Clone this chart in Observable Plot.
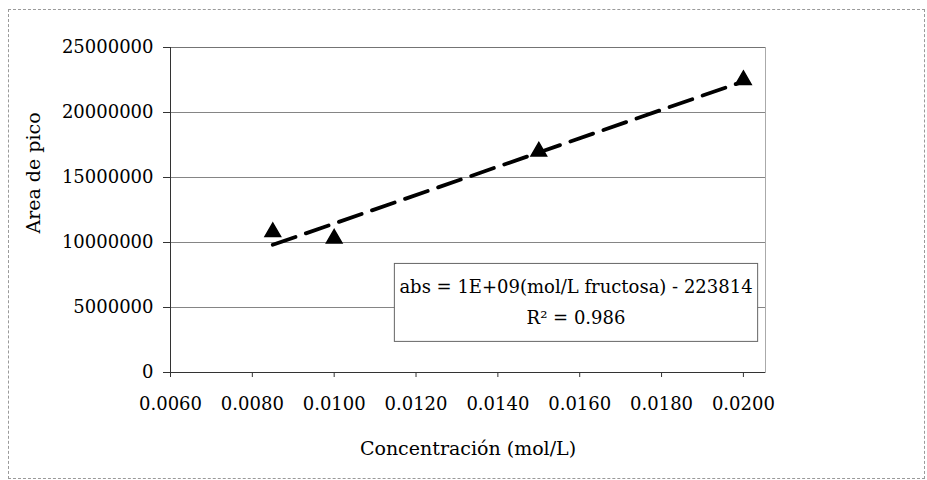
<!DOCTYPE html>
<html>
<head>
<meta charset="utf-8">
<script src="https://cdn.jsdelivr.net/npm/d3@7"></script>
<script src="https://cdn.jsdelivr.net/npm/@observablehq/plot@0.6"></script>
<style>
  body { margin: 0; background: #fff; }
  #wrap { position: relative; width: 927px; height: 480px; }
  #border { position: absolute; left: 8px; top: 9px; width: 915px; height: 468px; border: 1px dashed #9a9a9a; pointer-events: none; }
</style>
</head>
<body>
<div id="wrap"><div id="border"></div></div>
<script>
const concentration = [0.0085, 0.0100, 0.0150, 0.0200];
const peakArea = [10800000, 10300000, 17000000, 22500000];
const xTicks = [0.006, 0.008, 0.010, 0.012, 0.014, 0.016, 0.018, 0.020];
const yTicks = [0, 5000000, 10000000, 15000000, 20000000, 25000000];
const xLabel = "Concentración (mol/L)";
const yLabel = "Area de pico";
const eqLines = ["abs = 1E+09(mol/L fructosa) - 223814", "R² = 0.986"];

const data = concentration.map((c, i) => ({c, a: peakArea[i]}));
const font = "'DejaVu Serif', serif";

const chart = Plot.plot({
  width: 927,
  height: 480,
  marginLeft: 170,
  marginRight: 162,
  marginTop: 47,
  marginBottom: 108,
  style: {fontFamily: font, fontSize: "18px", color: "#000", background: "transparent"},
  x: {domain: [0.006, 0.02054], ticks: xTicks, tickFormat: d3.format(".4f"), label: null},
  y: {domain: [0, 25000000], ticks: yTicks, tickFormat: d => String(d), label: null},
  marks: [
    Plot.frame({stroke: "#aaa", strokeWidth: 1}),
    Plot.gridY(yTicks, {stroke: "#666", strokeOpacity: 0.8, strokeWidth: 1}),
    Plot.axisY({ticks: yTicks, tickFormat: d => String(d), tickSize: 7, tickPadding: 10, stroke: "#333", fontSize: 18, label: null}),
    Plot.axisX({ticks: xTicks, tickFormat: d3.format(".4f"), tickSize: 5, tickPadding: 20, stroke: "#333", fontSize: 18, label: null}),
    Plot.ruleX([0.006], {stroke: "#333", strokeWidth: 1}),
    Plot.ruleY([0], {stroke: "#333", strokeWidth: 1}),
    Plot.linearRegressionY(data, {x: "c", y: "a", ci: 0, stroke: "#000", strokeWidth: 3.8, strokeDasharray: "24,11"}),
    Plot.dot(data, {x: "c", y: "a", symbol: "triangle", r: 5.8, fill: "#000", stroke: "#000"}),
    Plot.text([xLabel], {frameAnchor: "bottom", dy: 76, textAnchor: "middle", lineAnchor: "middle", fontSize: 19, fill: "#000"}),
    Plot.text([yLabel], {frameAnchor: "left", dx: -137, dy: -37, rotate: -90, textAnchor: "middle", lineAnchor: "middle", fontSize: 19, fill: "#000"}),
    Plot.text([eqLines.join("\n")], {frameAnchor: "bottom", dx: 108, dy: -73.5, textAnchor: "middle", lineAnchor: "middle", lineHeight: 1.72, fontSize: 18, fill: "#000", className: "eqbox"})
  ]
});
document.getElementById("wrap").appendChild(chart);

// draw box around the regression equation
const eq = chart.querySelector("g.eqbox text") || chart.querySelector(".eqbox text");
if (eq) {
  const bb = eq.getBBox();
  const tr = eq.getAttribute("transform") || "";
  const padX = 5, padY = 13;
  const rect = document.createElementNS("http://www.w3.org/2000/svg", "rect");
  rect.setAttribute("x", bb.x - padX);
  rect.setAttribute("y", bb.y - padY);
  rect.setAttribute("width", bb.width + 2 * padX);
  rect.setAttribute("height", bb.height + 2 * padY);
  rect.setAttribute("fill", "#fff");
  rect.setAttribute("stroke", "#666");
  rect.setAttribute("stroke-width", "1");
  if (tr) rect.setAttribute("transform", tr);
  eq.parentNode.insertBefore(rect, eq);
}
</script>
</body>
</html>
